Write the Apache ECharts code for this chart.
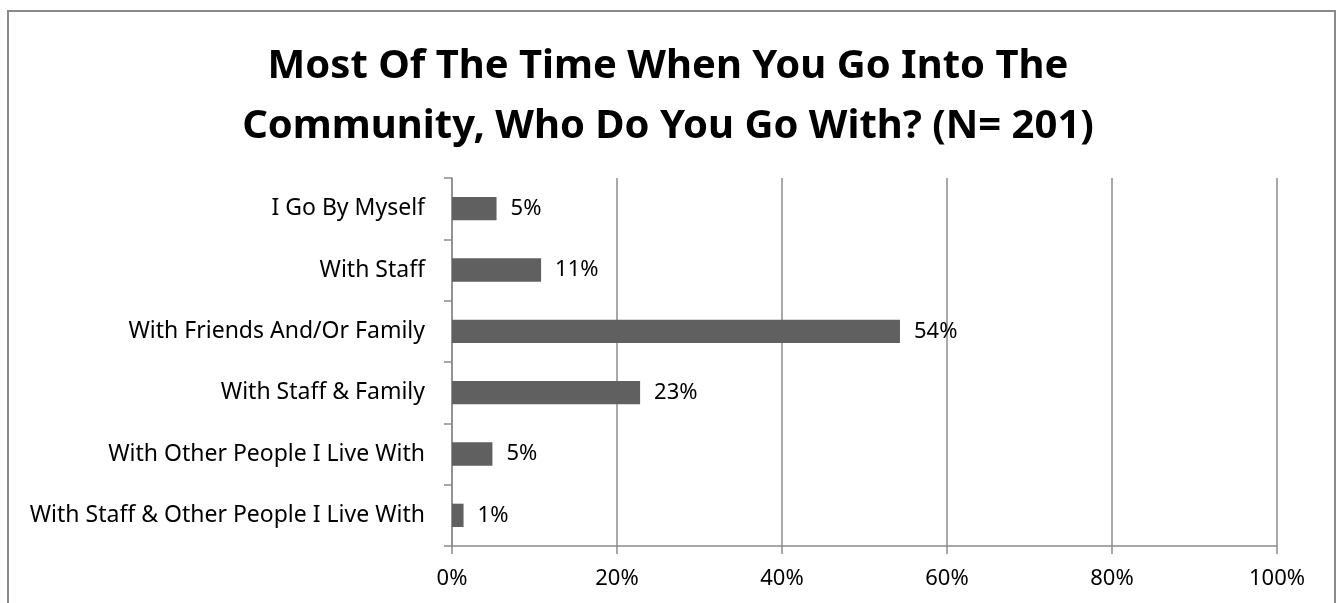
<!DOCTYPE html>
<html>
<head>
<meta charset="utf-8">
<script src="https://cdn.jsdelivr.net/npm/echarts@6/dist/echarts.min.js"></script>
<style>html,body{margin:0;padding:0;background:#fff}#c{width:1336px;height:603px}</style>
</head>
<body>
<div id="c"></div>
<script>
const titleText = 'Most Of The Time When You Go Into The\nCommunity, Who Do You Go With? (N= 201)';
const categories = ['I Go By Myself', 'With Staff', 'With Friends And/Or Family', 'With Staff & Family', 'With Other People I Live With', 'With Staff & Other People I Live With'];
const values = [5.4, 10.8, 54.3, 22.8, 4.9, 1.4];
const xTicks = [0, 20, 40, 60, 80, 100];

const FONT = 'Noto Sans';
const chart = echarts.init(document.getElementById('c'));
chart.setOption({
  animation: false,
  backgroundColor: '#fff',
  title: {
    text: titleText,
    left: 'center',
    top: 32,
    textStyle: { fontFamily: FONT, fontWeight: 'bold', fontSize: 40, lineHeight: 60, color: '#000' }
  },
  graphic: [{
    type: 'rect', silent: true,
    shape: { x: 8, y: 11, width: 1327, height: 640 },
    style: { fill: 'none', stroke: '#8a8a8a', lineWidth: 2 }
  }],
  grid: { left: 452, right: 59, top: 178, bottom: 57, containLabel: false },
  xAxis: {
    type: 'value', min: xTicks[0], max: xTicks[xTicks.length - 1], interval: 20,
    axisLine: { show: true, lineStyle: { color: '#8c8c8c', width: 1.5 } },
    axisTick: { show: true, length: 8, lineStyle: { color: '#8c8c8c', width: 1.5 } },
    splitLine: { show: true, lineStyle: { color: '#8c8c8c', width: 1.5 } },
    axisLabel: { formatter: '{value}%', margin: 22, fontFamily: FONT, fontSize: 22, color: '#000' }
  },
  yAxis: {
    type: 'category', data: categories, inverse: true,
    axisLine: { show: true, lineStyle: { color: '#8c8c8c', width: 1.5 } },
    axisTick: { show: true, length: 8, alignWithLabel: false, lineStyle: { color: '#8c8c8c', width: 1.5 } },
    axisLabel: { margin: 27, fontFamily: FONT, fontSize: 23, color: '#000' }
  },
  series: [{
    type: 'bar', data: values, barCategoryGap: '62%',
    itemStyle: { color: '#606060' },
    label: {
      show: true, position: 'right', distance: 14,
      formatter: p => Math.round(p.value) + '%',
      fontFamily: FONT, fontSize: 22, color: '#000'
    }
  }]
});
</script>
</body>
</html>
